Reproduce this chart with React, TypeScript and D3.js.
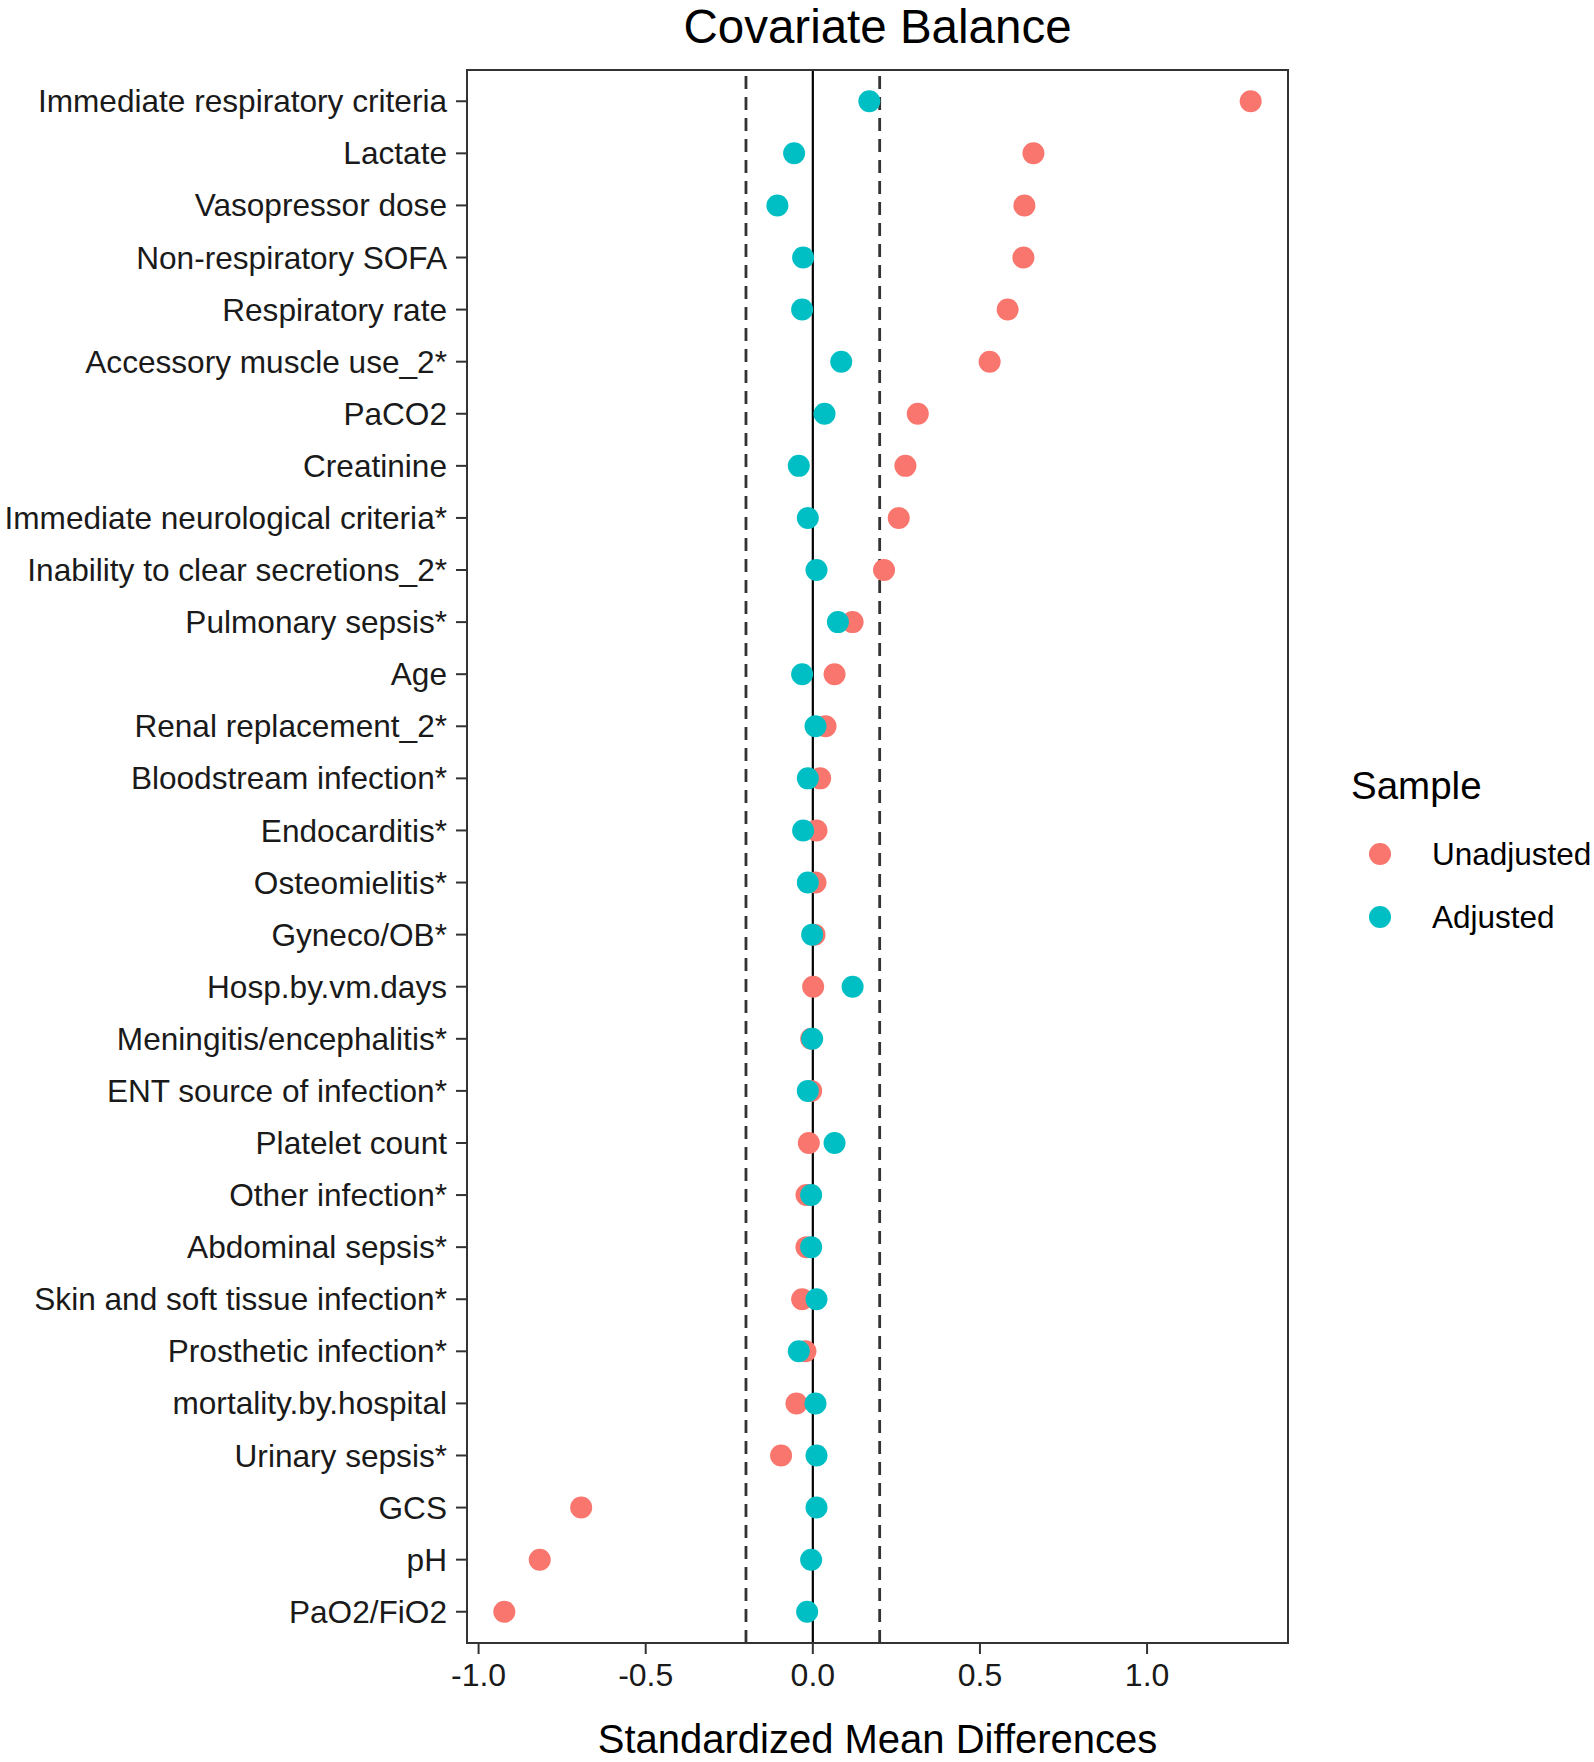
import * as d3 from "d3"

// covariates, top to bottom
const covariates = [
  "Immediate respiratory criteria",
  "Lactate",
  "Vasopressor dose",
  "Non-respiratory SOFA",
  "Respiratory rate",
  "Accessory muscle use_2*",
  "PaCO2",
  "Creatinine",
  "Immediate neurological criteria*",
  "Inability to clear secretions_2*",
  "Pulmonary sepsis*",
  "Age",
  "Renal replacement_2*",
  "Bloodstream infection*",
  "Endocarditis*",
  "Osteomielitis*",
  "Gyneco/OB*",
  "Hosp.by.vm.days",
  "Meningitis/encephalitis*",
  "ENT source of infection*",
  "Platelet count",
  "Other infection*",
  "Abdominal sepsis*",
  "Skin and soft tissue infection*",
  "Prosthetic infection*",
  "mortality.by.hospital",
  "Urinary sepsis*",
  "GCS",
  "pH",
  "PaO2/FiO2",
]

const unadjusted = [
  1.31, 0.66, 0.633, 0.63, 0.583, 0.529, 0.314, 0.277, 0.257, 0.213,
  0.119, 0.065, 0.038, 0.022, 0.011, 0.008, 0.005, 0.001, -0.005, -0.005,
  -0.012, -0.019, -0.019, -0.032, -0.022, -0.049, -0.095, -0.693, -0.817, -0.923,
]

const adjusted = [
  0.169, -0.056, -0.106, -0.029, -0.032, 0.085, 0.035, -0.042, -0.015, 0.011,
  0.075, -0.032, 0.008, -0.015, -0.029, -0.015, -0.002, 0.119, -0.002, -0.015,
  0.065, -0.005, -0.005, 0.011, -0.042, 0.008, 0.011, 0.011, -0.005, -0.017,
]

const xTicks = [-1.0, -0.5, 0.0, 0.5, 1.0]
const thresholds = [-0.2, 0.2]
const samples = ["Unadjusted", "Adjusted"]
const sampleColors = ["#F8766D", "#00BFC4"]

const W = 1594
const H = 1762
const panel = { left: 467, right: 1288, top: 70, bottom: 1643 }
const font = "'Liberation Sans', Arial, Helvetica, sans-serif"

export default function App() {
  const all = unadjusted.concat(adjusted)
  const [lo, hi] = d3.extent(all) as [number, number]
  const pad = (hi - lo) * 0.05
  const x = d3.scaleLinear().domain([lo - pad, hi + pad]).range([panel.left, panel.right])
  const y = d3.scalePoint<string>().domain(covariates).range([panel.top, panel.bottom]).padding(0.6)
  const cx = (panel.left + panel.right) / 2
  const r = 11
  const fmt = (t: number) => d3.format(".1f")(t).replace("\u2212", "-")

  return (
    <div style={{ position: "absolute", left: 0, top: 0 }}>
      <svg width={W} height={H} style={{ display: "block", background: "#fff", fontFamily: font }}>
        <text x={cx} y={43} textAnchor="middle" fontSize={47.5} fill="#000">
          Covariate Balance
        </text>

        {/* reference lines */}
        {thresholds.map((t) => (
          <line key={t} x1={x(t)} x2={x(t)} y1={panel.bottom} y2={panel.top}
            stroke="#333" strokeWidth={2.8} strokeDasharray="13 8" />
        ))}
        <line x1={x(0)} x2={x(0)} y1={panel.bottom} y2={panel.top} stroke="#000" strokeWidth={2.2} />

        {/* points */}
        {unadjusted.map((v, i) => (
          <circle key={"u" + i} cx={x(v)} cy={y(covariates[i])} r={r} fill={sampleColors[0]} />
        ))}
        {adjusted.map((v, i) => (
          <circle key={"a" + i} cx={x(v)} cy={y(covariates[i])} r={r} fill={sampleColors[1]} />
        ))}

        <rect x={panel.left} y={panel.top} width={panel.right - panel.left} height={panel.bottom - panel.top}
          fill="none" stroke="#333" strokeWidth={2} />

        {/* y axis */}
        {covariates.map((c) => (
          <g key={c} transform={`translate(0,${y(c)})`}>
            <line x1={panel.left - 11} x2={panel.left} stroke="#333" strokeWidth={2} />
            <text x={447} dy="0.35em" textAnchor="end" fontSize={31.6} fill="#1a1a1a">{c}</text>
          </g>
        ))}

        {/* x axis */}
        {xTicks.map((t) => (
          <g key={t} transform={`translate(${x(t)},0)`}>
            <line y1={panel.bottom} y2={panel.bottom + 11} stroke="#333" strokeWidth={2} />
            <text y={1686} textAnchor="middle" fontSize={32} fill="#1a1a1a">{fmt(t)}</text>
          </g>
        ))}
        <text x={cx} y={1753} textAnchor="middle" fontSize={40} fill="#000">
          Standardized Mean Differences
        </text>

        {/* legend */}
        <text x={1351} y={799} fontSize={38.5} fill="#000">Sample</text>
        {samples.map((s, i) => (
          <g key={s} transform={`translate(0,${854 + i * 63})`}>
            <circle cx={1380} cy={0} r={r} fill={sampleColors[i]} />
            <text x={1432} dy="0.35em" fontSize={31.5} fill="#000">{s}</text>
          </g>
        ))}
      </svg>
    </div>
  )
}
